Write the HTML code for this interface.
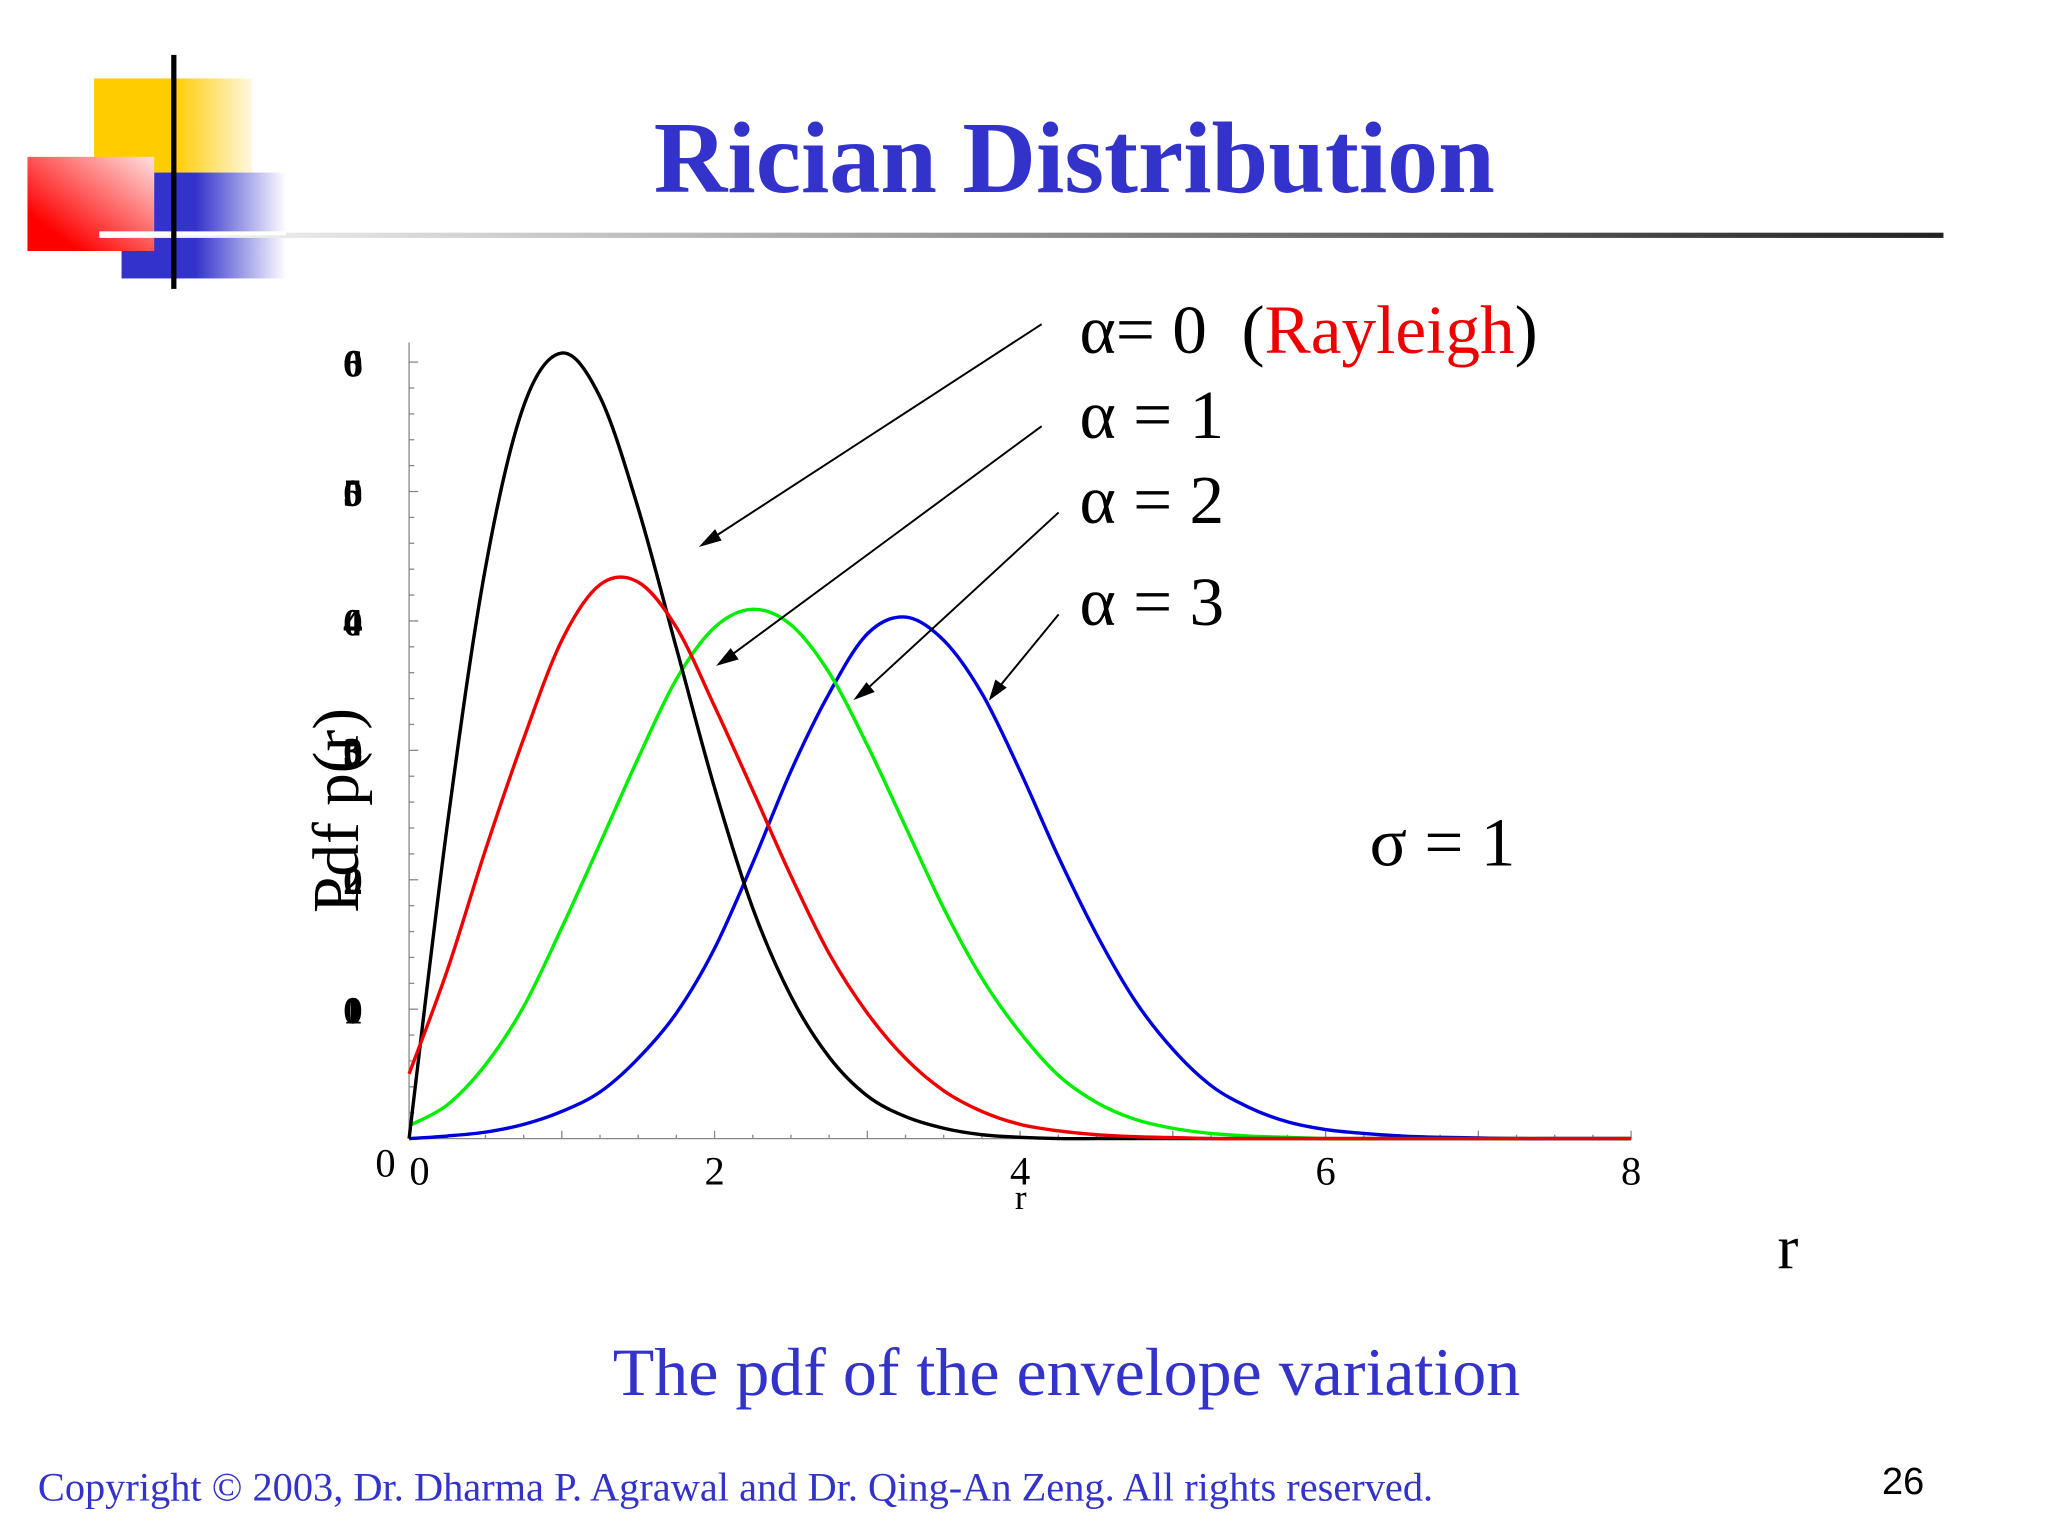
<!DOCTYPE html>
<html><head><meta charset="utf-8"><style>
html,body{margin:0;padding:0;background:#fff}
svg{display:block}
</style></head><body>
<svg width="2048" height="1536" viewBox="0 0 1567 1175" preserveAspectRatio="none" xmlns="http://www.w3.org/2000/svg">
<defs>
<linearGradient id="gy" x1="0" x2="1"><stop offset="0.5" stop-color="#ffcc00"/><stop offset="1" stop-color="#fff8e0"/></linearGradient>
<linearGradient id="gr" x1="0" y1="1" x2="1" y2="0"><stop offset="0.2" stop-color="#ff0000"/><stop offset="1" stop-color="#ffe0e0"/></linearGradient>
<linearGradient id="gb" x1="0" x2="1"><stop offset="0.45" stop-color="#3333cc"/><stop offset="1" stop-color="#ffffff"/></linearGradient>
<linearGradient id="gl" x1="0" x2="1"><stop offset="0" stop-color="#ffffff"/><stop offset="1" stop-color="#222222"/></linearGradient>
</defs>
<g>
<rect x="72" y="60" width="121" height="72" fill="url(#gy)"/>
<rect x="93" y="132" width="126" height="81" fill="url(#gb)"/>
<rect x="21" y="120" width="97" height="72" fill="url(#gr)"/>
<rect x="76" y="178" width="1411" height="4" fill="url(#gl)"/>
<rect x="76" y="177" width="143" height="3" fill="#fff"/>
<rect x="131" y="42" width="4" height="179" fill="#000"/>
</g>
<text x="822" y="147" text-anchor="middle" font-family="Liberation Serif, serif" font-weight="bold" font-size="78" fill="#3333cc">Rician Distribution</text>
<g id="chart"></g>
<g font-family="Liberation Serif, serif" font-size="53" fill="#000">
<text x="826" y="270" xml:space="preserve">α= 0  (<tspan fill="#ee0000">Rayleigh</tspan>)</text>
<text x="826" y="335">α = 1</text>
<text x="826" y="400">α = 2</text>
<text x="826" y="478">α = 3</text>
<text x="1048" y="662">σ = 1</text>
<text x="1360" y="970" font-size="48">r</text>
</g>
<g stroke="#000" stroke-width="1.5" fill="#000">
<line x1="797" y1="248" x2="540" y2="415"/><polygon points="537,417 547,406 551,413" />
<line x1="797" y1="326" x2="553" y2="506"/><polygon points="550,508 559,497 564,504"/>
<line x1="810" y1="392" x2="658" y2="532"/><polygon points="655,534 663,523 668,529"/>
<line x1="810" y1="470" x2="760" y2="531"/><polygon points="758,534 762,521 769,526"/>
</g>
<text x="816" y="1067" text-anchor="middle" font-family="Liberation Serif, serif" font-size="52" fill="#3333cc">The pdf of the envelope variation</text>
<text x="29" y="1148" font-family="Liberation Serif, serif" font-size="30.9" fill="#3333cc">Copyright © 2003, Dr. Dharma P. Agrawal and Dr. Qing-An Zeng. All rights reserved.</text>
<text x="1440" y="1143" font-family="Liberation Sans, sans-serif" font-size="29" fill="#000">26</text>
</svg>
<script>
const rGrid = [0,0.25,0.5,0.75,1,1.25,1.5,1.75,2,2.25,2.5,2.75,3,3.25,3.5,3.75,4,4.25,4.5,4.75,5,5.25,5.5,5.75,6,6.25,6.5,6.75,7,7.25,7.5,7.75,8];
const rayleigh = [0,0.242,0.441,0.566,0.607,0.573,0.487,0.379,0.271,0.178,0.110,0.063,0.033,0.017,0.008,0.003,0.001,0,0,0,0,0,0,0,0,0,0,0,0,0,0,0,0];
const alpha1 = [0.05,0.13,0.223,0.309,0.385,0.428,0.43,0.395,0.334,0.269,0.203,0.143,0.097,0.062,0.037,0.021,0.011,0.006,0.003,0.0015,0.0008,0,0,0,0,0,0,0,0,0,0,0,0];
const alpha2 = [0.01,0.026,0.057,0.102,0.163,0.228,0.294,0.355,0.395,0.409,0.397,0.36,0.304,0.241,0.178,0.124,0.082,0.049,0.028,0.015,0.008,0.004,0.002,0.001,0,0,0,0,0,0,0,0,0];
const alpha3 = [0,0.002,0.005,0.011,0.021,0.036,0.062,0.097,0.147,0.213,0.284,0.344,0.39,0.403,0.385,0.344,0.284,0.218,0.158,0.107,0.069,0.041,0.024,0.013,0.007,0.004,0.002,0.001,0.0005,0,0,0,0];
const xTicks = [0,2,4,6,8];
const yTicks = [0,0.1,0.2,0.3,0.4,0.5,0.6];
const yLabelsA = ["","0","0","0","0","0","0"];
const yLabelsB = ["","1","2","3","4","5","6"];
const NS="http://www.w3.org/2000/svg";
const X0=313,X1=1248,Y0=871,YS=990;
const xs=r=>X0+r*(X1-X0)/8, ys=v=>Y0-v*YS;
const g=document.getElementById('chart');
function mk(t,a){const e=document.createElementNS(NS,t);for(const k in a)e.setAttribute(k,a[k]);g.appendChild(e);return e;}
let ax=mk('line',{x1:X0,y1:262,x2:X0,y2:Y0,stroke:'#888','stroke-width':1});


let bx=mk('line',{x1:X0,y1:Y0,x2:X1,y2:Y0,stroke:'#888','stroke-width':1});


for(let v=0;v<=0.6001;v+=0.02){const t=mk('line',{x1:X0,x2:X0+(Math.abs(v*10-Math.round(v*10))<0.01?7:4),y1:ys(v),y2:ys(v),stroke:'#888'});

}
for(let r=0;r<=8.001;r+=0.25){const t=mk('line',{x1:xs(r),x2:xs(r),y1:Y0,y2:Y0-(r%1===0?6:3),stroke:'#888'});

}
xTicks.forEach(r=>{const t=mk('text',{x:xs(r)+(r===0?8:0),y:906,'text-anchor':'middle','font-family':'Liberation Serif, serif','font-size':31});t.textContent=r;

});
yTicks.forEach((v,i)=>{if(i===0)return;[yLabelsA[i],yLabelsB[i]].forEach(s=>{const t=mk('text',{x:270,y:ys(v)+11,'text-anchor':'middle','font-family':'Liberation Serif, serif','font-size':30,'font-weight':'bold'});t.textContent=s;

});});
let z=mk('text',{x:295,y:900,'text-anchor':'middle','font-family':'Liberation Serif, serif','font-size':31});z.textContent='0';


let xr=mk('text',{x:781,y:925,'text-anchor':'middle','font-family':'Liberation Serif, serif','font-size':27});xr.textContent='r';


let yt=mk('text',{x:0,y:0,'text-anchor':'middle','font-family':'Liberation Serif, serif','font-size':50,transform:'translate(274,620) rotate(-90)'});yt.textContent='Pdf p(r)';


function path(vals){const p=rGrid.map((r,i)=>[xs(r),ys(vals[i])]);let d='M'+p[0][0]+','+p[0][1];
for(let i=0;i<p.length-1;i++){const a=p[i-1]||p[i],b=p[i],c=p[i+1],e=p[i+2]||c;
d+=' C'+(b[0]+(c[0]-a[0])/6)+','+(b[1]+(c[1]-a[1])/6)+' '+(c[0]-(e[0]-b[0])/6)+','+(c[1]-(e[1]-b[1])/6)+' '+c[0]+','+c[1];}return d;}
[[alpha3,'#0000dd','curve-alpha3'],[alpha2,'#00ee00','curve-alpha2'],[rayleigh,'#000000','curve-rayleigh'],[alpha1,'#ee0000','curve-alpha1']].forEach(s=>{
const e=mk('path',{d:path(s[0]),fill:'none',stroke:s[1],'stroke-width':2.6});

});
</script>
</body></html>
